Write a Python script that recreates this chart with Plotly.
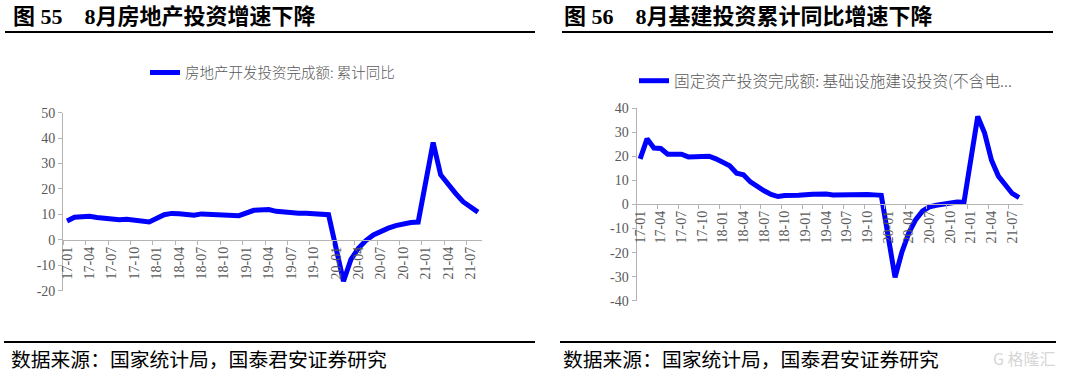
import plotly.graph_objects as go

W, H = 1065, 379

def X(px):
    return px / W

def Y(py):
    return 1 - py / H

# ---------------- data ----------------
months = [f"{y:02d}-{m:02d}" for y in range(17, 22) for m in range(1, 13)][:56]

real_estate = [
    7.4, 8.9, 9.1, 9.3, 8.8, 8.5, 7.9, 7.9, 8.1, 7.8, 7.5, 7.0,
    None, 9.9, 10.4, 10.3, 10.2, 9.7, 10.2, 10.1, 9.9, 9.7, 9.7, 9.5,
    None, 11.6, 11.8, 11.9, 11.2, 10.9, 10.6, 10.5, 10.5, 10.3, 10.2, 9.9,
    None, -16.3, -7.7, -3.3, -0.3, 1.9, 3.4, 4.6, 5.6, 6.3, 6.8, 7.0,
    None, 38.3, 25.6, 21.6, 18.3, 15.0, 12.7, 10.9,
]

infra = [
    19.0, 27.3, 23.5, 23.3, 20.9, 21.1, 20.9, 19.8, 19.8, 19.6, 20.1, 19.0,
    None, 16.1, 13.0, 12.4, 9.4, 7.3, 5.7, 4.2, 3.3, 3.7, 3.7, 3.8,
    None, 4.3, 4.4, 4.4, 4.0, 4.1, 3.8, 4.2, 4.5, 4.2, 4.0, 3.8,
    None, -30.3, -19.7, -11.8, -6.3, -2.7, -1.0, -0.3, 0.2, 0.7, 1.0, 0.9,
    None, 36.6, 29.7, 18.4, 11.8, 7.8, 4.6, 2.9,
]

left_yticks = [-20, -10, 0, 10, 20, 30, 40, 50]
right_yticks = [-40, -30, -20, -10, 0, 10, 20, 30, 40]

name_left = "房地产开发投资完成额: 累计同比"
name_right = "固定资产投资完成额: 基础设施建设投资(不含电..."

title_left = "图 55\u00a0\u00a0\u00a0\u00a08月房地产投资增速下降"
title_right = "图 56\u00a0\u00a0\u00a0\u00a08月基建投资累计同比增速下降"
source_text = "数据来源：国家统计局，国泰君安证券研究"

# ---------------- styles ----------------
BLUE = "#0000FF"
AX = "#b4b4b4"
TXT = "#595959"
SERIF = "Liberation Serif, Noto Sans CJK SC"
CJK = "Noto Sans CJK SC"

fig = go.Figure()

fig.add_trace(go.Scatter(
    x=months, y=real_estate, name=name_left, mode="lines",
    line=dict(color=BLUE, width=5), connectgaps=True,
    xaxis="x", yaxis="y", legend="legend", showlegend=True,
))
fig.add_trace(go.Scatter(
    x=months, y=infra, name=name_right, mode="lines",
    line=dict(color=BLUE, width=5), connectgaps=True,
    xaxis="x2", yaxis="y2", legend="legend2", showlegend=True,
))

tickfont = dict(family=SERIF, size=14, color=TXT)

xcommon = dict(
    type="category", categoryorder="array", categoryarray=months,
    range=[-0.5, 55.5], tickmode="linear", tick0=0, dtick=3,
    tickson="boundaries", ticks="outside", ticklen=4, tickcolor=AX,
    showline=True, linecolor=AX, linewidth=1.3, showgrid=False,
    zeroline=False, tickangle=-90, tickfont=tickfont, anchor="free",
    automargin=False,
)
ycommon = dict(
    ticks="outside", ticklen=4, tickcolor=AX, showline=True, linecolor=AX,
    linewidth=1.3, showgrid=False, zeroline=False, tickfont=tickfont,
    tickmode="array", automargin=False,
)

fig.update_layout(
    width=W, height=H,
    margin=dict(l=0, r=0, t=0, b=0, pad=0, autoexpand=False),
    paper_bgcolor="white", plot_bgcolor="white",
    font=dict(family=SERIF, color=TXT),
    xaxis=dict(xcommon, domain=[X(63.3), X(481.7)], position=Y(240.0)),
    yaxis=dict(ycommon, domain=[Y(290.7), Y(112.7)], range=[-20, 50],
               tickvals=left_yticks, ticktext=[str(v) for v in left_yticks],
               anchor="x"),
    xaxis2=dict(xcommon, domain=[X(636.7), X(1022.5)], position=Y(204.0)),
    yaxis2=dict(ycommon, domain=[Y(300.7), Y(108.3)], range=[-40, 40],
                tickvals=right_yticks, ticktext=[str(v) for v in right_yticks],
                anchor="x2"),
    legend=dict(x=X(145), y=Y(72.5), xanchor="left", yanchor="middle",
                orientation="h", bgcolor="rgba(0,0,0,0)",
                font=dict(family=CJK, size=14.5, color=TXT, weight=300)),
    legend2=dict(x=X(634), y=Y(81), xanchor="left", yanchor="middle",
                 orientation="h", bgcolor="rgba(0,0,0,0)",
                 font=dict(family=CJK, size=15.7, color=TXT, weight=300)),
    showlegend=True,
)

annos = []
for x0, t in [(11, title_left), (562, title_right)]:
    annos.append(dict(
        text=t, x=X(x0), y=Y(16), xref="paper", yref="paper",
        xanchor="left", yanchor="middle", showarrow=False,
        font=dict(family=SERIF, size=22, color="black", weight="bold"),
    ))
for x0 in [9, 561]:
    annos.append(dict(
        text=source_text, x=X(x0), y=Y(358), xref="paper", yref="paper",
        xanchor="left", yanchor="middle", showarrow=False,
        font=dict(family=CJK, size=19.8, color="black"),
    ))
annos.append(dict(
    text="G 格隆汇", x=X(1058), y=Y(358), xref="paper", yref="paper",
    xanchor="right", yanchor="middle", showarrow=False,
    font=dict(family=CJK, size=16, color="#d6d6d6"),
))
fig.update_layout(annotations=annos)

shapes = []
for (xa, xb, yy) in [(5, 535, 32), (562, 1053, 32), (4, 535, 342), (560, 1056, 342)]:
    shapes.append(dict(type="line", xref="paper", yref="paper",
                       x0=X(xa), x1=X(xb), y0=Y(yy), y1=Y(yy),
                       line=dict(color="black", width=2.2)))
fig.update_layout(shapes=shapes)

fig.write_html(
    "out.html",
    config={"displayModeBar": False},
    post_script="document.body.style.margin='0';document.body.style.overflow='hidden';",
)
